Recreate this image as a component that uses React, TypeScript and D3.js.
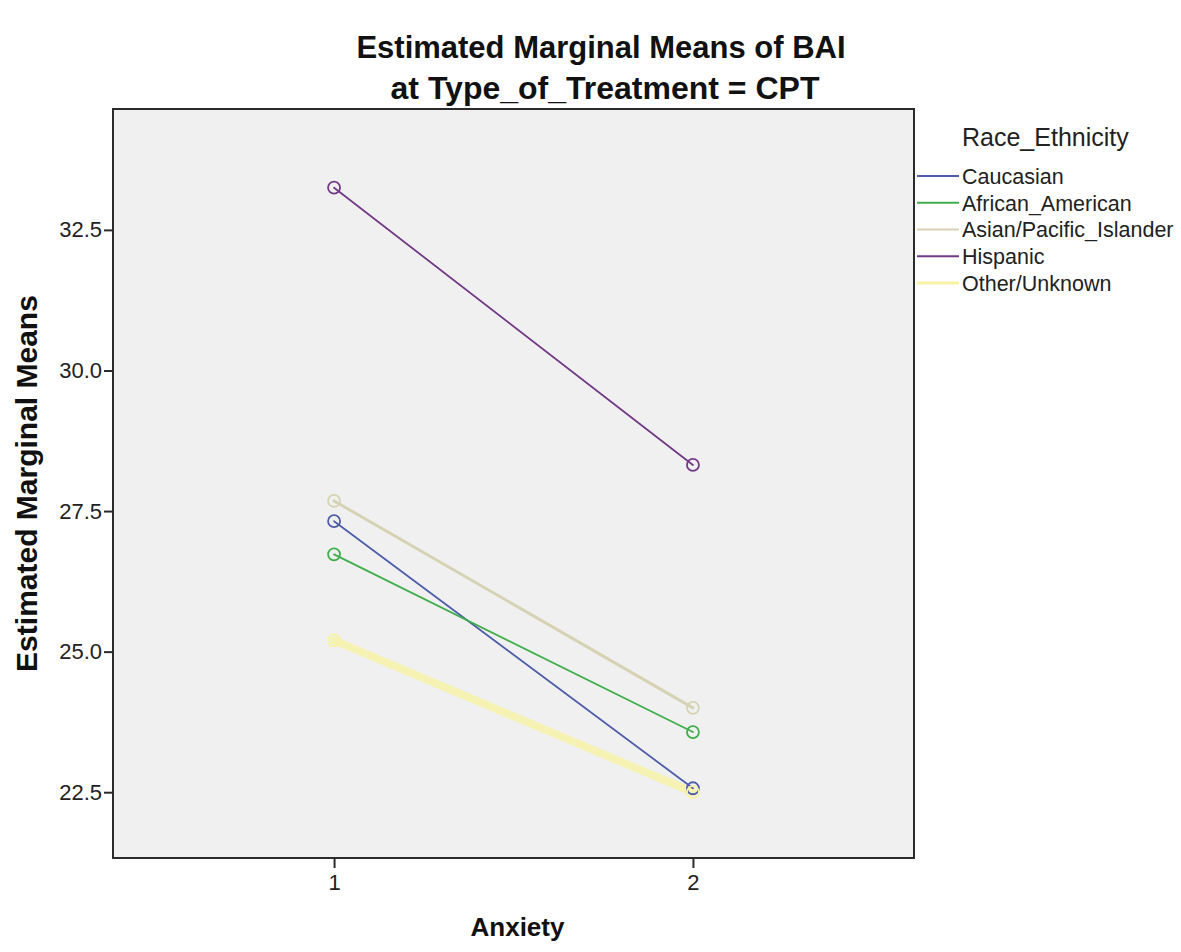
import React, { useEffect, useRef } from "react";
import * as d3 from "d3";

// Estimated marginal means of BAI, at Type_of_Treatment = CPT
const anxietyLevels = ["1", "2"];
const raceGroups = ["Caucasian", "African_American", "Asian/Pacific_Islander", "Hispanic", "Other/Unknown"];
const caucasianMeans = [27.32, 22.57];
const africanAmericanMeans = [26.73, 23.57];
const asianPacificMeans = [27.68, 24.0];
const hispanicMeans = [33.25, 28.32];
const otherUnknownMeans = [25.2, 22.5];
const yTicks = [22.5, 25.0, 27.5, 30.0, 32.5];

const groupColors = ["#4d5da9", "#3fae4b", "#d8d2b4", "#723a86", "#f7f3a0"];
const groupWidths = [1.8, 1.8, 3, 1.8, 8];

const FONT = "'Liberation Sans', Arial, sans-serif";

const App = () => {
  const ref = useRef<SVGSVGElement>(null);

  useEffect(() => {
    const W = 1181;
    const H = 952;
    const plot = { left: 113, right: 914, top: 109, bottom: 858 };

    const svg = d3.select(ref.current);
    svg.selectAll("*").remove();
    svg.attr("width", W).attr("height", H);

    svg.append("rect").attr("width", W).attr("height", H).attr("fill", "#ffffff");

    const series = [caucasianMeans, africanAmericanMeans, asianPacificMeans, hispanicMeans, otherUnknownMeans]
      .map((vals, i) => ({ name: raceGroups[i], color: groupColors[i], width: groupWidths[i], values: vals }));

    const x = d3.scalePoint<string>()
      .domain(anxietyLevels)
      .range([plot.left, plot.right])
      .padding(0.616);

    const y = d3.scaleLinear()
      .domain([21.33, 34.65])
      .range([plot.bottom, plot.top]);

    // plot background
    svg.append("rect")
      .attr("x", plot.left)
      .attr("y", plot.top)
      .attr("width", plot.right - plot.left)
      .attr("height", plot.bottom - plot.top)
      .attr("fill", "#f0f0f0");

    // lines + markers (thick pale line drawn first so it sits underneath)
    const line = d3.line<number>()
      .x((d, i) => x(anxietyLevels[i]) as number)
      .y((d) => y(d));

    const g = svg.append("g");
    const ordered = [...series].sort((a, b) => b.width - a.width);
    ordered.forEach((s) => {
      g.append("path")
        .datum(s.values)
        .attr("d", line)
        .attr("fill", "none")
        .attr("stroke", s.color)
        .attr("stroke-width", s.width)
        .attr("stroke-linecap", "round")
        .attr("opacity", s.width > 5 ? 0.75 : 1);
    });
    series.forEach((s) => {
      g.selectAll(null)
        .data(s.values)
        .enter().append("circle")
        .attr("cx", (d, i) => x(anxietyLevels[i]) as number)
        .attr("cy", (d) => y(d))
        .attr("r", 6)
        .attr("fill", "none")
        .attr("stroke", s.color)
        .attr("stroke-width", 1.8);
    });

    // frame
    svg.append("rect")
      .attr("x", plot.left)
      .attr("y", plot.top)
      .attr("width", plot.right - plot.left)
      .attr("height", plot.bottom - plot.top)
      .attr("fill", "none")
      .attr("stroke", "#2b2b2b")
      .attr("stroke-width", 2);

    // y axis
    const yAxis = svg.append("g")
      .attr("transform", `translate(${plot.left}, 0)`)
      .call(d3.axisLeft(y).tickValues(yTicks).tickFormat(d3.format(".1f")).tickSize(9).tickPadding(2));
    yAxis.select(".domain").remove();
    yAxis.selectAll("line").attr("stroke", "#2b2b2b").attr("stroke-width", 2);
    yAxis.selectAll("text")
      .attr("font-family", FONT)
      .attr("font-size", 22)
      .attr("fill", "#222");

    // x axis
    const xAxis = svg.append("g")
      .attr("transform", `translate(0, ${plot.bottom})`)
      .call(d3.axisBottom(x).tickSize(10).tickPadding(6));
    xAxis.select(".domain").remove();
    xAxis.selectAll("line").attr("stroke", "#2b2b2b").attr("stroke-width", 2);
    xAxis.selectAll("text")
      .attr("font-family", FONT)
      .attr("font-size", 22)
      .attr("fill", "#222");

    // titles
    svg.append("text")
      .attr("x", 601).attr("y", 58)
      .attr("text-anchor", "middle")
      .attr("font-family", FONT).attr("font-weight", "bold").attr("font-size", 31)
      .attr("fill", "#111")
      .text("Estimated Marginal Means of BAI");
    svg.append("text")
      .attr("x", 605).attr("y", 99)
      .attr("text-anchor", "middle")
      .attr("font-family", FONT).attr("font-weight", "bold").attr("font-size", 32)
      .attr("fill", "#111")
      .text("at Type_of_Treatment = CPT");

    svg.append("text")
      .attr("x", (plot.left + plot.right) / 2 + 4).attr("y", 936)
      .attr("text-anchor", "middle")
      .attr("font-family", FONT).attr("font-weight", "bold").attr("font-size", 26)
      .attr("fill", "#111")
      .text("Anxiety");

    svg.append("text")
      .attr("transform", `translate(37, ${(plot.top + plot.bottom) / 2}) rotate(-90)`)
      .attr("text-anchor", "middle")
      .attr("font-family", FONT).attr("font-weight", "bold").attr("font-size", 30)
      .attr("fill", "#111")
      .text("Estimated Marginal Means");

    // legend
    const legend = svg.append("g");
    legend.append("text")
      .attr("x", 962).attr("y", 146)
      .attr("font-family", FONT).attr("font-size", 25)
      .attr("fill", "#222")
      .text("Race_Ethnicity");

    const item = legend.selectAll(".item")
      .data(series)
      .enter().append("g")
      .attr("class", "item")
      .attr("transform", (d, i) => `translate(917, ${176 + i * 26.75})`);
    item.append("line")
      .attr("x1", 0).attr("x2", 42)
      .attr("stroke", (d) => d.color)
      .attr("stroke-width", (d) => (d.width > 5 ? 3 : 1.8));
    item.append("text")
      .attr("x", 45).attr("dy", "0.36em")
      .attr("font-family", FONT).attr("font-size", 21.5)
      .attr("fill", "#222")
      .text((d) => d.name);
  }, []);

  return (
    <div>
      <svg ref={ref} style={{ position: "absolute", left: 0, top: 0 }}></svg>
    </div>
  );
};

export default App;
